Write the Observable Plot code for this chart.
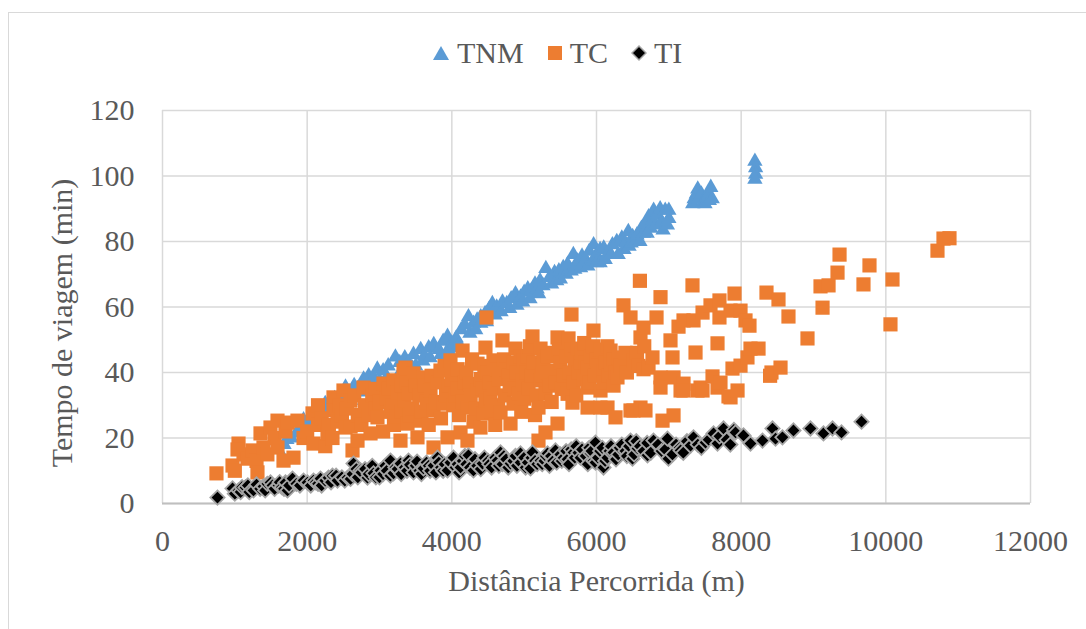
<!DOCTYPE html>
<html>
<head>
<meta charset="utf-8">
<script src="https://cdn.jsdelivr.net/npm/d3@7"></script>
<script src="https://cdn.jsdelivr.net/npm/@observablehq/plot@0.6"></script>
<style>
  html, body { margin: 0; padding: 0; background: #fff; }
  #wrap { position: relative; width: 1086px; height: 629px; overflow: hidden; font-family: 'Liberation Serif' !important; }
  #frame { position: absolute; left: 8px; top: 12px; width: 1100px; height: 640px; border-left: 1.5px solid #d9d9d9; border-top: 1.5px solid #d9d9d9; }
  #legend { position: absolute; left: 432px; top: 36px; display: flex; align-items: center; font-size: 30px; color: #595959; }
  #legend span { font-family: 'Liberation Serif' !important; }
  #legend .item { display: flex; align-items: center; margin-right: 23px; }
  #legend svg { margin-right: 7px; }
  #chart { position: absolute; left: 0; top: 0; }
  #chart svg, #chart svg text, #chart svg g { font-family: 'Liberation Serif' !important; }
</style>
</head>
<body>
<div id="wrap">
  <div id="frame"></div>
  <div id="chart"></div>
  <div id="legend"></div>
</div>
<script>
// Tick values
const xTicks = [0, 2000, 4000, 6000, 8000, 10000, 12000];
const yTicks = [0, 20, 40, 60, 80, 100, 120];
const seriesNames = ["TNM", "TC", "TI"];

// TNM: [distance (m), time (min)]
const tnmPoints = [[1600,16.5],[1680,18],[1720,19.5],[1780,20],[1850,21.5],[1900,23],[1950,25.5],[2000,24],[2050,26],[2100,24.5],[2120,27],[2200,29],[2250,30.5],[2300,29.5],[2350,28],[2380,32],[2450,33],[2500,32],[2530,35.5],[2580,34],[2600,31.5],[2650,36],[2700,35],[2750,34],[2780,38],[2850,39],[2900,36],[2920,38.5],[2970,41],[3000,37.5],[3050,40.5],[3100,38.5],[3120,42],[3220,44.7],[3280,43],[3300,40.5],[3350,44.5],[3400,43],[3450,41.5],[3470,45.5],[3500,42],[3570,47],[3600,43.5],[3620,45],[3680,47.5],[3700,44.5],[3750,48.5],[3820,47],[3850,45.5],[3880,49.5],[3940,51],[3950,47],[4000,49],[4000,47.5],[4060,50.5],[4100,48.5],[4130,53],[4180,54.5],[4230,57],[4250,52],[4300,55],[4330,53],[4350,56],[4400,57],[4400,55],[4460,58],[4480,55.5],[4520,59.5],[4560,61],[4600,57.5],[4620,60],[4680,58.5],[4700,61.5],[4760,61],[4800,59.5],[4820,62.5],[4880,64],[4900,60.5],[4950,63],[4980,61.5],[5000,64.5],[5050,65.5],[5080,62.5],[5100,65],[5150,67],[5180,65.5],[5200,64],[5220,68],[5260,66.5],[5300,71.7],[5350,69],[5380,67],[5420,70.5],[5450,68],[5480,71],[5500,68.5],[5540,72],[5580,70],[5600,73],[5650,71],[5680,76],[5700,71.5],[5740,74],[5780,72],[5800,75.5],[5850,74.5],[5880,72.5],[5900,77],[5950,74],[5960,79],[6000,76],[6000,73.5],[6050,77.5],[6050,73.5],[6100,78],[6120,74.5],[6150,76],[6200,76],[6220,79],[6280,80],[6300,76],[6350,81],[6380,77.5],[6400,79.5],[6440,83],[6450,78.5],[6480,79.5],[6500,81.5],[6540,80],[6560,82],[6600,80],[6620,84],[6650,82.5],[6680,85.5],[6700,82.5],[6720,87.5],[6750,84],[6780,86.5],[6790,89.5],[6820,85],[6850,88],[6880,90],[6900,86],[6920,83.5],[6950,89.5],[6980,85],[7000,87],[7000,89.5],[7330,91.5],[7350,93],[7380,94.5],[7400,96],[7420,93],[7450,94.5],[7470,92],[7500,91.5],[7520,93.5],[7550,94],[7560,92.5],[7580,96.5],[7600,93],[8190,104.5],[8200,102.5],[8200,100.5],[8190,99]];

// TC: [distance (m), time (min)]
const tcPoints = [[746,9.2],[968,11.6],[1000,10],[1051,18.3],[1037,16.5],[1120,15],[1175,13.7],[1244,16.2],[1300,13],[1313,9.5],[1355,21.4],[1396,17.1],[1450,15],[1493,23.2],[1550,20],[1590,25.3],[1590,17.1],[1673,13.1],[1700,22],[1728,24.7],[1811,14],[1866,25.3],[1950,20],[2000,22],[2074,27.5],[2088,18.3],[2150,24],[2150,30],[2200,26],[2250,17.5],[2281,21.4],[2300,24],[2350,20],[2364,32.4],[2364,28.5],[2420,25],[2450,30],[2480,27],[2502,34.5],[2530,23.2],[2550,29],[2599,31.4],[2600,23.5],[2627,16.2],[2650,33],[2696,19.2],[2700,27],[2750,24],[2779,35.4],[2800,30],[2850,27],[2876,21.4],[2900,33],[2950,29],[2950,35],[2972,26.3],[3000,31],[3050,22],[3055,36.6],[3100,32],[3120,35],[3150,28],[3180,30],[3194,37.6],[3200,24],[3230,26.5],[3250,34],[3290,19.2],[3300,36],[3300,28],[3332,40.6],[3346,31.4],[3359,41.5],[3380,37],[3387,24.4],[3401,33.6],[3420,27],[3450,29],[3470,39.7],[3500,36],[3525,20.2],[3550,33],[3567,25.3],[3580,28],[3608,38.5],[3620,36],[3650,31],[3680,24],[3705,34.5],[3720,39],[3747,28.4],[3747,17.1],[3780,31],[3800,37],[3843,40.6],[3850,26],[3885,30.5],[3900,42],[3920,33],[3940,20.2],[3960,36],[3981,43.7],[4000,38],[4020,30],[4050,33],[4078,35.1],[4080,41],[4100,27],[4120,21.7],[4148,46.7],[4150,31],[4180,37],[4200,40],[4216,29.3],[4216,19.2],[4250,36.5],[4260,33],[4280,44],[4300,25],[4330,29],[4355,42.7],[4355,34.5],[4396,23.2],[4400,38],[4420,35],[4438,27.5],[4450,42],[4465,47.6],[4465,31.4],[4479,56.8],[4500,40],[4520,37],[4530,32],[4550,28],[4576,43.7],[4576,35.1],[4600,24],[4620,41],[4640,30],[4650,38],[4673,27.8],[4700,49.8],[4720,44],[4730,33],[4750,41],[4780,39],[4800,36],[4811,24.4],[4850,43],[4853,30.5],[4870,35],[4880,47.3],[4900,40],[4922,33.6],[4950,45],[4960,28],[4977,37.6],[4991,43.7],[5000,32],[5030,40],[5050,45],[5060,35],[5080,48],[5100,39],[5115,51],[5130,43],[5150,27],[5170,33],[5198,29.3],[5198,19.2],[5226,47.3],[5226,37.6],[5240,39],[5250,42],[5267,43.7],[5295,33.6],[5295,21.7],[5320,40],[5330,45],[5350,36],[5380,31],[5400,46],[5406,40.6],[5430,37],[5461,50.7],[5461,24.4],[5480,47],[5500,43],[5520,35],[5550,39],[5580,45],[5600,33.5],[5613,50.4],[5630,40],[5650,47],[5654,57.7],[5668,30.8],[5682,36.9],[5700,44],[5720,33],[5737,47.3],[5750,40],[5780,43],[5800,46],[5820,38],[5830,49],[5850,43],[5876,41.5],[5876,35.4],[5876,29.3],[5900,37],[5920,45],[5950,48],[5958,52.8],[5980,39],[6000,44],[6020,42],[6055,34.5],[6055,29.3],[6060,47],[6097,40.6],[6100,37],[6120,43],[6150,48],[6152,29.3],[6170,39],[6194,46.7],[6200,42.5],[6235,36],[6240,44],[6260,40],[6263,26.3],[6290,38.5],[6304,44.6],[6330,42],[6373,60.5],[6400,46],[6420,40],[6470,56.8],[6470,28.4],[6511,43.7],[6511,28.4],[6560,46],[6580,42],[6600,68],[6608,50.7],[6608,29.3],[6650,53.7],[6650,41],[6660,48],[6677,28.4],[6719,41.5],[6774,44.6],[6830,56.8],[6885,63],[6885,38.5],[6885,35.4],[6913,25.3],[7023,49.8],[7051,44.6],[7065,38.5],[7065,26.9],[7134,54],[7162,34.5],[7203,55.9],[7203,36.6],[7203,34.5],[7327,66.6],[7341,55.9],[7369,46.1],[7396,34.5],[7438,35.4],[7466,58.3],[7466,34.5],[7576,60.5],[7604,38.8],[7673,48.9],[7673,35.4],[7700,62],[7700,56.8],[7714,36.9],[7825,32.7],[7853,58.9],[7853,32.4],[7880,41.2],[7908,64.1],[7950,34.5],[7991,58.9],[7991,42.1],[8060,55.9],[8087,44.6],[8115,54.3],[8129,47.3],[8240,47.3],[8350,64.4],[8400,39],[8419,40],[8516,62.3],[8544,41.5],[8654,57.1],[8917,50.4],[9097,66.3],[9125,59.8],[9208,66.6],[9332,70.5],[9360,76],[9691,66.9],[9774,72.7],[10064,54.7],[10092,68.4],[10714,77.2],[10797,80.9],[10880,81]];

// TI: [distance (m), time (min)]
const tiPoints = [[760,1.8],[968,4.6],[1000,3],[1051,4],[1080,3.5],[1100,5],[1147,4.9],[1180,5.5],[1200,3.5],[1258,4],[1300,5.8],[1350,4.5],[1396,5.2],[1420,4],[1450,6],[1493,6.4],[1520,5.5],[1550,4.5],[1604,5.5],[1620,6.5],[1650,5],[1680,4.5],[1700,6.4],[1728,4],[1750,5.5],[1797,7.6],[1850,6],[1900,5.5],[1950,7],[2004,6.4],[2050,5.5],[2088,7],[2120,6.5],[2150,6],[2184,7.6],[2200,5.5],[2250,7],[2295,7.9],[2330,6.5],[2350,8.5],[2400,8.5],[2419,7],[2480,8],[2520,7],[2558,7.9],[2600,7.5],[2627,9],[2641,12.2],[2680,10.5],[2700,8],[2737,10.1],[2750,9.5],[2800,10.5],[2834,7.9],[2850,9],[2900,11.5],[2917,9.2],[2950,8],[3000,8],[3014,10.1],[3050,9],[3080,11.5],[3100,10],[3150,8.5],[3152,13.1],[3194,9.2],[3220,11],[3250,10.5],[3290,12.2],[3300,9],[3350,11],[3380,10],[3401,13.1],[3420,11.8],[3470,9.5],[3500,11.5],[3520,12.8],[3550,10],[3580,9],[3608,10.7],[3650,12.5],[3680,11.5],[3700,10],[3747,11.6],[3780,9.5],[3802,14],[3820,12.5],[3850,11],[3880,10],[3900,12],[3940,10.1],[3980,12.5],[4023,14],[4050,11],[4080,12],[4100,9.5],[4120,11],[4150,13],[4180,14.5],[4200,12],[4230,14.7],[4250,11],[4299,10.1],[4320,13.5],[4350,11.5],[4400,10.5],[4424,12.2],[4450,14],[4500,13],[4520,12],[4550,11],[4600,14],[4631,13.1],[4650,11.5],[4673,15.6],[4700,12],[4720,14.5],[4750,13.5],[4780,11],[4811,12.2],[4850,13],[4880,14.5],[4900,11.5],[4949,15.3],[4950,12.5],[5000,14],[5020,11],[5050,12.5],[5088,10.7],[5100,14],[5115,15.6],[5150,13],[5180,12],[5226,13.1],[5250,12],[5280,13],[5300,14.5],[5323,15.3],[5350,11.5],[5370,14.5],[5400,13],[5433,16.2],[5450,12.5],[5500,15],[5520,13],[5544,14],[5580,16],[5600,13.5],[5620,12],[5650,16.5],[5682,15.6],[5700,14],[5720,17.5],[5750,15.5],[5779,14],[5800,16.5],[5850,14.5],[5880,12],[5900,17],[5917,15.3],[5930,16],[5958,13],[5986,18.6],[5986,12.5],[6020,14],[6050,16],[6080,17],[6097,11],[6120,13],[6150,14],[6180,16],[6200,17.5],[6235,15.6],[6270,13.5],[6300,15],[6320,17],[6350,18],[6400,16],[6420,14.5],[6450,17.5],[6470,19.2],[6498,13.7],[6520,15],[6550,19],[6567,16.8],[6600,17.5],[6650,16],[6700,18.5],[6705,14.7],[6750,15.5],[6788,19.2],[6850,18],[6900,16],[6950,16.5],[6981,19.8],[6995,13.7],[7050,15],[7100,18],[7150,17],[7162,16.2],[7200,15.5],[7250,19],[7300,17.7],[7341,20.2],[7400,18],[7450,17],[7507,18.6],[7550,19.5],[7618,21.4],[7673,18.3],[7700,20.5],[7756,22.9],[7800,19.5],[7850,18],[7900,22.5],[7922,21.7],[8032,20.8],[8129,18.3],[8295,19.2],[8433,22.9],[8475,19.8],[8571,20.2],[8723,22.3],[8958,22.9],[9138,21.4],[9263,22.9],[9387,21.7],[9664,25]];

const xTitle = "Distância Percorrida (m)";
const yTitle = "Tempo de viagem (min)";

const colors = { TNM: "#5B9BD5", TC: "#ED7D31", TI: "#000000" };
const tiStroke = "#A5A5A5";
const fontFam = "Liberation Serif";

const chart = Plot.plot({
  width: 1086,
  height: 629,
  marginLeft: 162,
  marginRight: 56,
  marginTop: 110,
  marginBottom: 126,
  x: { domain: [0, 12000] },
  y: { domain: [0, 120] },
  style: { fontFamily: fontFam, color: "#595959", background: "transparent", overflow: "visible" },
  marks: [
    Plot.gridX(xTicks, { stroke: "#d9d9d9", strokeOpacity: 1, strokeWidth: 1.5 }),
    Plot.gridY(yTicks, { stroke: "#d9d9d9", strokeOpacity: 1, strokeWidth: 1.5 }),
    Plot.ruleY([0], { stroke: "#bfbfbf", strokeWidth: 2 }),
    Plot.axisX(xTicks, { tickSize: 0, tickPadding: 26, fontSize: 30, fontFamily: fontFam, label: null, tickFormat: d => String(d) }),
    Plot.axisY(yTicks, { tickSize: 0, tickPadding: 28, fontSize: 30, fontFamily: fontFam, label: null, tickFormat: d => String(d) }),
    Plot.dot(tnmPoints, { x: d => d[0], y: d => d[1], symbol: "triangle", r: 5.7, fill: colors.TNM }),
    Plot.dot(tcPoints, { x: d => d[0], y: d => d[1], symbol: "square", r: 8, fill: colors.TC }),
    Plot.dot(tiPoints, { x: d => d[0], y: d => d[1], symbol: "square", r: 5.7, rotate: 45, fill: colors.TI, stroke: tiStroke, strokeWidth: 1.8 }),
    Plot.text([xTitle], { text: d => d, frameAnchor: "bottom", textAnchor: "middle", dy: 87, fontSize: 30, fontFamily: fontFam, fill: "#595959" }),
    Plot.text([yTitle], { text: d => d, frameAnchor: "left", textAnchor: "middle", dx: -100, dy: 16, rotate: -90, fontSize: 30, fontFamily: fontFam, fill: "#595959" })
  ]
});
document.getElementById("chart").appendChild(chart);

// Legend
const legend = document.getElementById("legend");
const markerSvg = {
  TNM: `<svg width="18" height="18" viewBox="0 0 18 18"><polygon points="9,2 17,16 1,16" fill="${colors.TNM}"/></svg>`,
  TC: `<svg width="16" height="18" viewBox="0 0 16 18"><rect x="1" y="2" width="14" height="14" fill="${colors.TC}"/></svg>`,
  TI: `<svg width="16" height="18" viewBox="0 0 16 18"><polygon points="8,2 15,9 8,16 1,9" fill="${colors.TI}" stroke="${tiStroke}" stroke-width="1.5"/></svg>`
};
seriesNames.forEach(name => {
  const item = document.createElement("div");
  item.className = "item";
  item.innerHTML = markerSvg[name] + `<span>${name}</span>`;
  legend.appendChild(item);
});
</script>
</body>
</html>
